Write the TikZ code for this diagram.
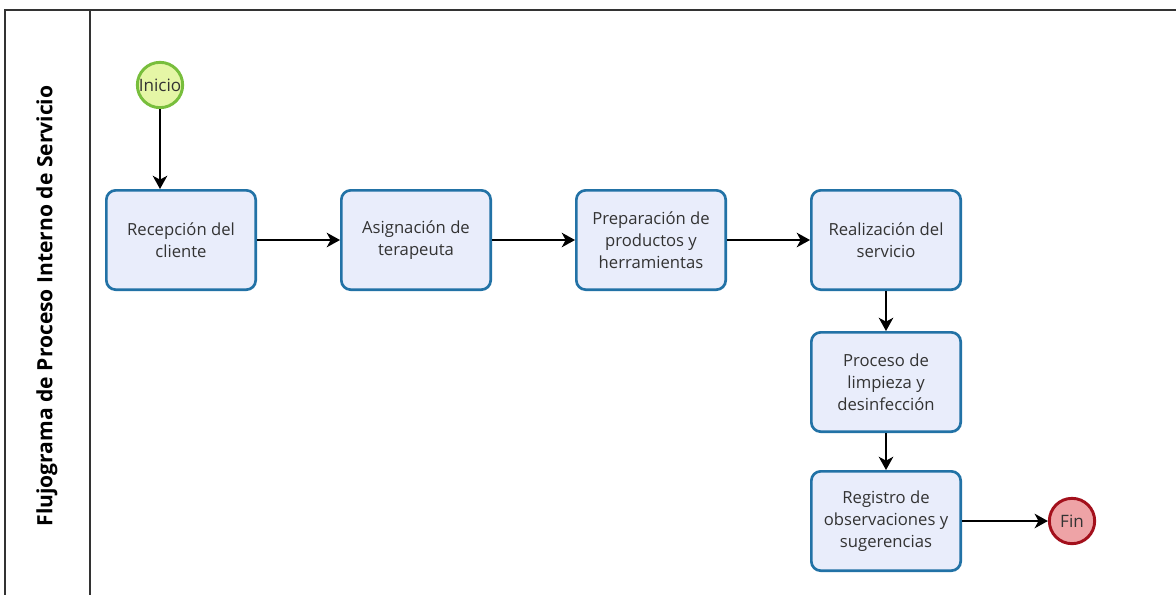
\documentclass[tikz,border=0pt]{standalone}
\usepackage{fontspec}
\setmainfont{Open Sans}
\usepackage{tikz}
\usetikzlibrary{arrows.meta}
\definecolor{boxfill}{HTML}{E9EDFB}
\definecolor{boxline}{HTML}{2272A6}
\definecolor{startfill}{HTML}{E5F6A6}
\definecolor{startline}{HTML}{78BE3C}
\definecolor{endfill}{HTML}{EEA3A6}
\definecolor{endline}{HTML}{A3101C}
\definecolor{txt}{HTML}{333333}

\begin{document}
\begin{tikzpicture}[x=0.75pt,y=0.75pt,yscale=-1,xscale=1,
  task/.style={draw=boxline, fill=boxfill, line width=2pt, rounded corners=7pt,
    minimum width=112pt, minimum height=74.5pt, align=center, text=txt,
    font=\fontsize{12.5}{16.5}\selectfont},
  startev/.style={circle, draw=startline, fill=startfill, line width=2.2pt,
    minimum size=34pt, inner sep=0pt, text=txt, font=\fontsize{12.8}{14}\selectfont},
  endev/.style={circle, draw=endline, fill=endfill, line width=2.2pt,
    minimum size=34pt, inner sep=0pt, text=txt, font=\fontsize{12.8}{14}\selectfont},
  flow/.style={-{Stealth[length=10pt,width=11pt,inset=3pt]}, line width=1pt, black}]
\useasboundingbox (0,0) rectangle (1176,594);

%Pool lines
\draw [line width=1.5pt, draw=black!80] (1190,9.5) -- (5,9.5) -- (5,610);
\draw [line width=1.5pt, draw=black!80] (90,9.5) -- (90,610);
% Pool title
\node (pool) [rotate=90, font=\fontsize{15.8}{18}\selectfont\bfseries] at (47,306) {Flujograma de Proceso Interno de Servicio};

% Events
\node (ini) [startev] at (160,85) {Inicio};
\node (fin) [endev] at (1072,521) {Fin};

% Tasks
\node (rec) [task] at (181,240) {Recepción del\\cliente};
\node (asig) [task] at (416,240) {Asignación de\\terapeuta};
\node (prep) [task] at (651,240) {Preparación de\\productos y\\herramientas};
\node (real) [task] at (886,240) {Realización del\\servicio};
\node (limp) [task] at (886,382) {Proceso de\\limpieza y\\desinfección};
\node (reg) [task] at (886,521) {Registro de\\observaciones y\\sugerencias};

% Flows
\draw [flow] (ini) -- (ini |- rec.north);
\draw [flow] (rec) -- (asig);
\draw [flow] (asig) -- (prep);
\draw [flow] (prep) -- (real);
\draw [flow] (real) -- (limp);
\draw [flow] (limp) -- (reg);
\draw [flow] (reg) -- (fin);
\end{tikzpicture}
\end{document}
